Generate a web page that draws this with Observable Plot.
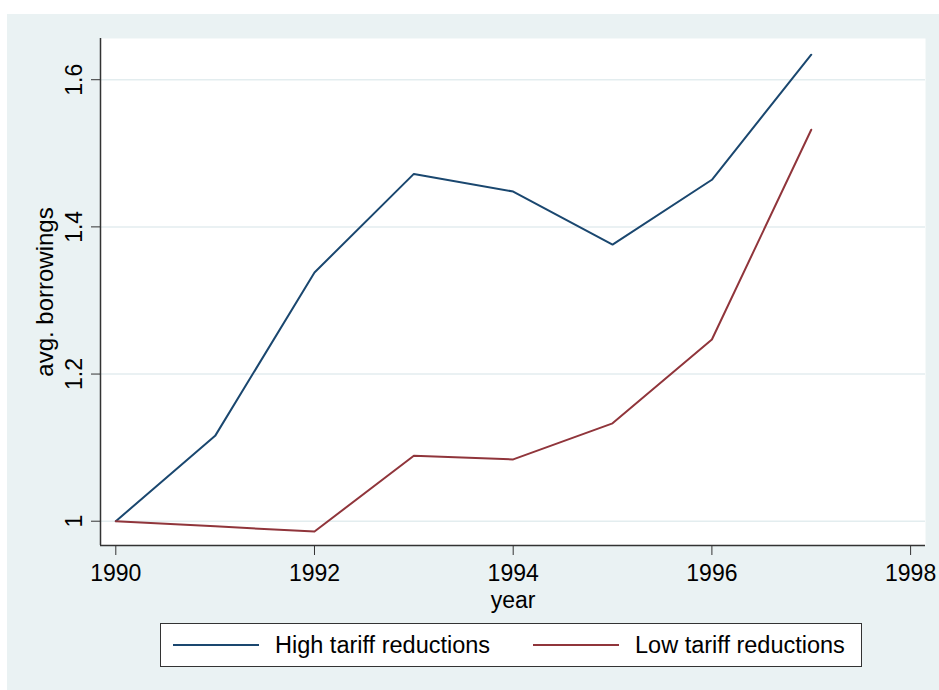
<!DOCTYPE html>
<html>
<head>
<meta charset="utf-8">
<script src="https://cdn.jsdelivr.net/npm/d3@7"></script>
<script src="https://cdn.jsdelivr.net/npm/@observablehq/plot@0.6"></script>
<style>
  html, body { margin: 0; padding: 0; background: #ffffff; width: 939px; height: 690px; overflow: hidden; }
  body { font-family: "Liberation Sans", Arial, sans-serif; }
  #bg { position: absolute; left: 7px; top: 14px; width: 932px; height: 676px; background: #eaf2f3; }
  #chart { position: absolute; left: 0; top: 0; }
  #legend { position: absolute; left: 153px; top: 609px; width: 700px; height: 42px; background: #fff;
            border: 1.5px solid #333; display: flex; align-items: center; font-size: 23.5px; color: #000; }
  .item { display: flex; align-items: center; position: absolute; }
  .sw { width: 86px; height: 0; border-top: 2px solid; margin-right: 16px; }
</style>
</head>
<body>
<div id="bg">
  <div id="chart"></div>
  <div id="legend"></div>
</div>
<script>
const years = [1990, 1991, 1992, 1993, 1994, 1995, 1996, 1997];
const highTariff = [1.000, 1.116, 1.338, 1.472, 1.448, 1.376, 1.464, 1.634];
const lowTariff  = [1.000, 0.993, 0.986, 1.089, 1.084, 1.133, 1.247, 1.532];
const seriesNames = ["High tariff reductions", "Low tariff reductions"];
const seriesColors = ["#1a476f", "#90353b"];
const xTicks = [1990, 1992, 1994, 1996, 1998];
const yTicks = [1, 1.2, 1.4, 1.6];
const xDomain = [1989.846, 1998.15];
const yDomain = [0.967, 1.656];

const rows = [];
years.forEach((yr, i) => {
  rows.push({year: yr, value: highTariff[i], series: seriesNames[0]});
  rows.push({year: yr, value: lowTariff[i], series: seriesNames[1]});
});

const chart = Plot.plot({
  width: 932,
  height: 620,
  marginLeft: 93,
  marginRight: 14,
  marginTop: 24,
  marginBottom: 89,
  style: {fontFamily: "'Liberation Sans', Arial, sans-serif", fontSize: "23px", background: "transparent", color: "#000"},
  x: {domain: xDomain},
  y: {domain: yDomain},
  color: {domain: seriesNames, range: seriesColors},
  marks: [
    Plot.frame({fill: "#ffffff", stroke: null}),
    Plot.gridY(yTicks, {stroke: "#e3edef", strokeOpacity: 1, strokeWidth: 1.5}),
    Plot.ruleX([xDomain[0]], {stroke: "#333", strokeWidth: 1.5}),
    Plot.ruleY([yDomain[0]], {stroke: "#333", strokeWidth: 1.5}),
    Plot.axisX({ticks: xTicks, tickFormat: d => String(d), tickSize: 10, tickPadding: 9, stroke: "#333",
                fontSize: 23, label: null}),
    Plot.axisX({ticks: [], label: "year", labelAnchor: "center", labelArrow: "none", labelOffset: 62, fontSize: 23}),
    Plot.axisY({ticks: yTicks, tickFormat: d => String(d), tickSize: 9, tickPadding: 10, tickRotate: -90, stroke: "#333",
                fontSize: 23, label: null}),
    Plot.axisY({ticks: [], label: "avg. borrowings", labelAnchor: "center", labelArrow: "none", labelOffset: 65, fontSize: 24}),
    Plot.line(rows, {x: "year", y: "value", z: "series", stroke: "series", strokeWidth: 2})
  ]
});
document.getElementById("chart").appendChild(chart);

const legend = document.getElementById("legend");
const lefts = [12, 372];
seriesNames.forEach((name, i) => {
  const it = document.createElement("div");
  it.className = "item";
  it.style.left = lefts[i] + "px";
  const sw = document.createElement("span");
  sw.className = "sw";
  sw.style.borderColor = seriesColors[i];
  const t = document.createElement("span");
  t.textContent = name;
  it.appendChild(sw); it.appendChild(t);
  legend.appendChild(it);
});
</script>
</body>
</html>
